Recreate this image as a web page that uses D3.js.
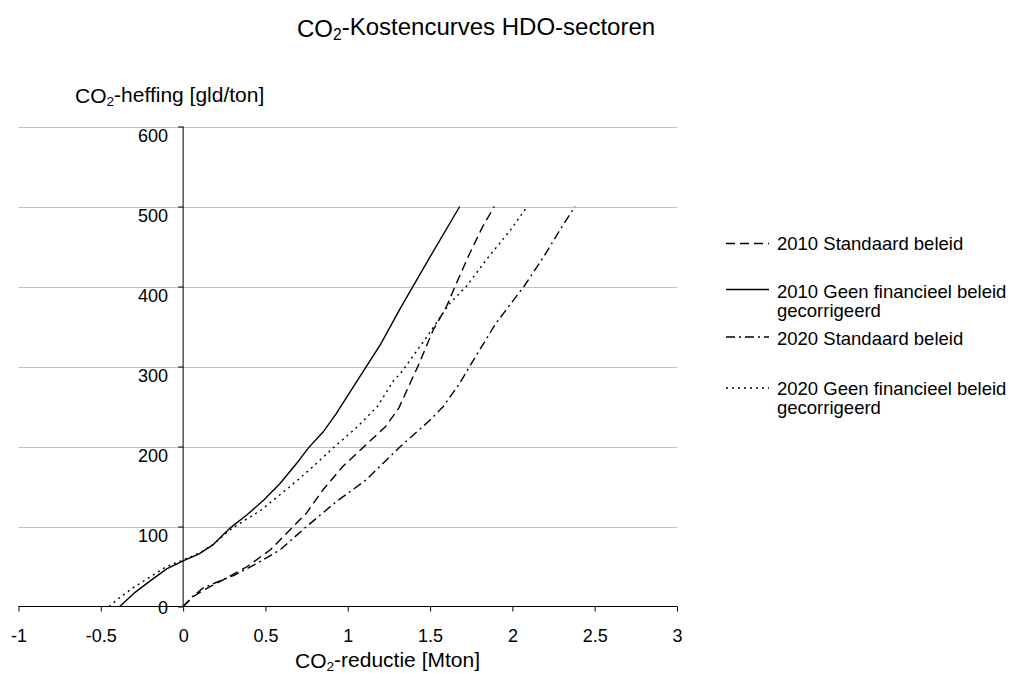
<!DOCTYPE html>
<meta charset="utf-8"/>
<style>
  body { margin: 0; background: #fff; }
  text { font-family: "Liberation Sans", Arial, sans-serif; fill: #000; }
  .grid line { stroke: #c0c0c0; stroke-width: 1px; }
  .curve { fill: none; stroke: #000; stroke-width: 1.4px; }
</style>
<body>
<svg width="1010" height="673"></svg>
</body>
<script src="https://d3js.org/d3.v7.min.js"></script>
<script>

  // tick values
  var xTicks = [-1, -0.5, 0, 0.5, 1, 1.5, 2, 2.5, 3]
  var yTicks = [0, 100, 200, 300, 400, 500, 600]

  // 2010 Standaard beleid (dashed)
  var std2010X = [0, 0.06, 0.12, 0.24, 0.39, 0.53, 0.65, 0.75, 0.85, 0.97, 1.11, 1.23, 1.31, 1.37, 1.43, 1.52, 1.60, 1.66, 1.74, 1.82, 1.89]
  var std2010Y = [0, 12, 20, 33, 50, 71, 96, 117, 146, 175, 202, 225, 248, 275, 302, 346, 375, 404, 441, 475, 500]

  // 2010 Geen financieel beleid gecorrigeerd (solid)
  var geen2010X = [-0.385, -0.29, -0.2, -0.1, 0, 0.1, 0.18, 0.285, 0.39, 0.49, 0.59, 0.69, 0.76, 0.85, 0.93, 1.06, 1.2, 1.32, 1.5, 1.68]
  var geen2010Y = [0, 18, 32, 47, 57, 66, 77, 98, 115, 133, 154, 179, 198, 218, 241, 283, 328, 373, 437, 500]

  // 2020 Standaard beleid (dash-dot)
  var std2020X = [0, 0.06, 0.12, 0.2, 0.31, 0.45, 0.59, 0.75, 0.93, 1.11, 1.32, 1.5, 1.58, 1.68, 1.74, 1.9, 2.07, 2.19, 2.29, 2.38]
  var std2020Y = [0, 13, 23, 30, 39, 54, 71, 100, 131, 158, 200, 233, 250, 279, 300, 354, 400, 437, 471, 500]

  // 2020 Geen financieel beleid gecorrigeerd (dotted)
  var geen2020X = [-0.45, -0.38, -0.3, -0.2, -0.1, 0, 0.1, 0.18, 0.28, 0.33, 0.47, 0.65, 0.79, 0.91, 1.05, 1.18, 1.28, 1.32, 1.48, 1.62, 1.72, 1.84, 1.99, 2.09]
  var geen2020Y = [0, 12, 24, 37, 50, 58, 67, 77, 95, 102, 120, 150, 175, 198, 223, 250, 283, 291, 337, 379, 400, 433, 471, 500]

  var legendLabels = [
    ["2010 Standaard beleid"],
    ["2010 Geen financieel beleid", "gecorrigeerd"],
    ["2020 Standaard beleid"],
    ["2020 Geen financieel beleid", "gecorrigeerd"]
  ]

  var series = [
    { xs: std2010X, ys: std2010Y, dash: "9,5" },
    { xs: geen2010X, ys: geen2010Y, dash: null },
    { xs: std2020X, ys: std2020Y, dash: "9,4,2,4" },
    { xs: geen2020X, ys: geen2020Y, dash: "2,4" }
  ]

  var svg = d3.select("svg")

  var x = d3.scaleLinear().domain([-1, 3]).range([18.5, 677])
  var y = d3.scaleLinear().domain([0, 600]).range([606.5, 126.5])

  // gridlines
  svg.append("g")
    .attr("class", "grid")
    .selectAll("line")
    .data(yTicks.filter(function (d) { return d > 0 }))
    .enter().append("line")
    .attr("x1", x(-1)).attr("x2", x(3))
    .attr("y1", function (d) { return Math.round(y(d)) + 0.5 })
    .attr("y2", function (d) { return Math.round(y(d)) + 0.5 })

  // x axis at y = 0
  var xAxis = svg.append("g")
    .attr("transform", "translate(0," + y(0) + ")")
    .call(d3.axisBottom(x).tickValues(xTicks).tickSize(5).tickPadding(0).tickFormat(d3.format("")))
  xAxis.select(".domain").attr("d", "M" + x(-1) + ",0H" + x(3)).attr("stroke", "#000")
  xAxis.selectAll(".tick line").attr("stroke", "#000")
  xAxis.selectAll(".tick text").remove()
  xAxis.selectAll(".tick").append("text")
    .attr("y", 35)
    .attr("text-anchor", "middle")
    .style("font-size", "18px")
    .text(function (d) { return d3.format("")(d).replace("−", "-") })

  // y axis at x = 0
  var yAxis = svg.append("g")
    .attr("transform", "translate(" + x(0) + ",0)")
    .call(d3.axisLeft(y).tickValues(yTicks).tickSize(5).tickFormat(""))
  yAxis.select(".domain").attr("d", "M0," + y(0) + "V" + y(600)).attr("stroke", "#000")
  yAxis.selectAll(".tick line").attr("stroke", "#000")
  yAxis.selectAll(".tick").append("text")
    .attr("x", -15)
    .attr("y", function (d) { return d === 0 ? 7 : 15 })
    .attr("text-anchor", "end")
    .style("font-size", "18px")
    .text(function (d) { return d })

  // curves
  var line = d3.line()
    .x(function (d) { return x(d[0]) })
    .y(function (d) { return y(d[1]) })

  svg.append("g").selectAll("path")
    .data(series)
    .enter().append("path")
    .attr("class", "curve")
    .attr("stroke-dasharray", function (d) { return d.dash })
    .attr("d", function (d) { return line(d3.zip(d.xs, d.ys)) })

  // titles with subscript 2
  function co2Text (sel, rest) {
    sel.append("tspan").text("CO")
    sel.append("tspan").attr("dy", "0.2em").style("font-size", "0.65em").text("2")
    sel.append("tspan").attr("dy", "-0.2em").text(rest)
  }

  svg.append("text")
    .attr("x", 297).attr("y", 37)
    .style("font-size", "24px")
    .call(co2Text, "-Kostencurves HDO-sectoren")

  svg.append("text")
    .attr("x", 75).attr("y", 103)
    .style("font-size", "21px")
    .call(co2Text, "-heffing [gld/ton]")

  svg.append("text")
    .attr("x", 295).attr("y", 668)
    .style("font-size", "21px")
    .call(co2Text, "-reductie [Mton]")

  // legend
  var legendLineY = [243.5, 289.5, 337, 388]
  var legendTextY = [249.5, 297.5, 344.5, 394.5]

  var leg = svg.append("g").selectAll("g")
    .data(series)
    .enter().append("g")

  leg.append("line")
    .attr("class", "curve")
    .attr("x1", 726).attr("x2", 769)
    .attr("y1", function (d, i) { return legendLineY[i] })
    .attr("y2", function (d, i) { return legendLineY[i] })
    .attr("stroke-dasharray", function (d) { return d.dash })

  leg.append("text")
    .attr("x", 777)
    .attr("y", function (d, i) { return legendTextY[i] })
    .style("font-size", "18.5px")
    .selectAll("tspan")
    .data(function (d, i) { return legendLabels[i] })
    .enter().append("tspan")
    .attr("x", 777)
    .attr("dy", function (d, j) { return j === 0 ? 0 : 19 })
    .text(function (d) { return d })

</script>
